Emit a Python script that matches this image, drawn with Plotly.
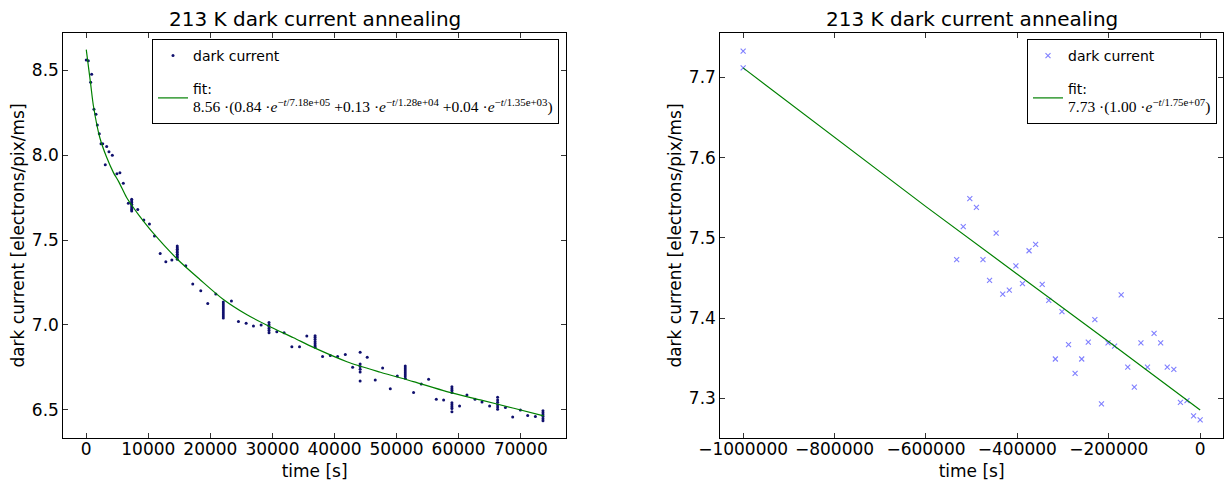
import plotly.graph_objects as go

# ---------------- left panel data ----------------
left_t = [0, 330, 710, 870, 1240, 1560, 1780, 2100, 2380, 2650, 3060, 3290, 3660, 4200, 4940, 5420, 5970, 6780,
          7320, 7320, 7320, 7320, 7320, 7320, 7320, 7320,
          8300, 9270, 10180, 10990, 11910, 12820, 13790,
          14660, 14660, 14660, 14660, 14660, 14660, 14660, 14660, 14660,
          16030, 17160, 18450, 19580, 20870,
          22080, 22080, 22080, 22080, 22080, 22080, 22080, 22080, 22080,
          23390, 24520, 25760, 26940, 28180,
          29450, 29450, 29450, 29450, 29450, 29450,
          30700, 31880, 33130, 34360, 35540,
          36870, 36870, 36870, 36870, 36870, 36870, 36870,
          38080, 39320, 40500, 41740, 42920,
          44130, 44130, 44130, 44130, 44130, 44130,
          45270, 46560, 47750, 48990, 50120,
          51400, 51400, 51400, 51400, 51400, 51400, 51400,
          52740, 53980, 55160, 56400, 57580,
          58920, 58920, 58920, 58920, 58920, 58920, 58920, 58920, 58920,
          60150, 61340, 62640, 63770, 64990,
          66280, 66280, 66280, 66280, 66280, 66280,
          67540, 68710, 69950, 71130, 72370,
          73590, 73590, 73590, 73590, 73590, 73590]
left_v = [8.559, 8.555, 8.428, 8.475, 8.27, 8.24, 8.176, 8.125, 8.066, 8.066, 7.943, 8.05, 8.02, 7.998, 7.89, 7.896, 7.834, 7.716,
          7.74, 7.73, 7.72, 7.71, 7.70, 7.69, 7.68, 7.67,
          7.68, 7.618, 7.594, 7.524, 7.42, 7.372, 7.382,
          7.465, 7.455, 7.446, 7.436, 7.426, 7.416, 7.406, 7.397, 7.387,
          7.349, 7.241, 7.202, 7.127, 7.182,
          7.135, 7.123, 7.112, 7.10, 7.088, 7.076, 7.065, 7.053, 7.041,
          7.141, 7.02, 7.01, 6.994, 7.0,
          7.014, 7.002, 6.991, 6.979, 6.967, 6.955,
          6.96, 6.955, 6.872, 6.872, 6.935,
          6.937, 6.926, 6.914, 6.902, 6.89, 6.878, 6.869,
          6.814, 6.82, 6.814, 6.827, 6.751,
          6.839, 6.771, 6.755, 6.739, 6.724, 6.671,
          6.81, 6.676, 6.747, 6.625, 6.70,
          6.759, 6.747, 6.735, 6.724, 6.712, 6.70, 6.686,
          6.603, 6.653, 6.68, 6.563, 6.559,
          6.637, 6.625, 6.614, 6.602, 6.543, 6.531, 6.519, 6.508, 6.49,
          6.524, 6.588, 6.563, 6.547, 6.524,
          6.575, 6.559, 6.545, 6.531, 6.518, 6.504,
          6.514, 6.459, 6.50, 6.467, 6.461,
          6.496, 6.484, 6.472, 6.461, 6.449, 6.437]

left_fit_t = [0, 700, 1150, 2200, 3300, 4400, 5200, 6500, 7300, 8500, 10800, 14600, 18300, 22100,
              25900, 29600, 33400, 36600, 42000, 47400, 52700, 58100, 63500, 68900, 73700]
left_fit_v = [8.62, 8.42, 8.29, 8.10, 7.985, 7.895, 7.845, 7.75, 7.706, 7.645, 7.54, 7.39, 7.268, 7.15,
              7.06, 6.99, 6.925, 6.868, 6.784, 6.722, 6.667, 6.608, 6.559, 6.51, 6.465]

left_fit_label = ("fit:<br><span style='font-family:Liberation Serif;font-size:15.5px'>8.56 ·(0.84 ·<i>e</i>"
                  "<sup>−<i>t</i>/7.18e+05</sup> +0.13 ·<i>e</i><sup>−<i>t</i>/1.28e+04</sup>"
                  " +0.04 ·<i>e</i><sup>−<i>t</i>/1.35e+03</sup>)</span>")

# ---------------- right panel data ----------------
right_t = [-1000000, -1000000, -532800, -518400, -504000, -489600, -475200, -460800, -446400, -432000,
           -417600, -403200, -388800, -374400, -360000, -345600, -331200, -316800, -302400, -288000,
           -273600, -259200, -244800, -230400, -216000, -201600, -187200, -172800, -158400, -144000,
           -129600, -115200, -100800, -86400, -72000, -57600, -43200, -28800, -14400, 0]
right_v = [7.733, 7.712, 7.473, 7.514, 7.549, 7.538, 7.473, 7.447, 7.506, 7.430,
           7.435, 7.465, 7.443, 7.484, 7.492, 7.442, 7.422, 7.349, 7.408, 7.367,
           7.331, 7.349, 7.370, 7.398, 7.293, 7.369, 7.365, 7.429, 7.339, 7.314,
           7.369, 7.339, 7.381, 7.369, 7.339, 7.336, 7.295, 7.297, 7.278, 7.273]

right_fit_t = [-1000000, -600000, -200000, 0]
right_fit_v = [7.712, 7.539, 7.3705, 7.2854]

right_fit_label = ("fit:<br><span style='font-family:Liberation Serif;font-size:15.5px'>7.73 ·(1.00 ·<i>e</i>"
                   "<sup>−<i>t</i>/1.75e+07</sup>)</span>")

title_text = "213 K dark current annealing"
x_title = "time [s]"
y_title = "dark current [electrons/pix/ms]"

FONT = "DejaVu Sans"
W, H = 1226, 486
T, B = 33, 48
PH = H - T - B

fig = go.Figure()

fig.add_trace(go.Scatter(x=left_t, y=left_v, mode="markers", name="dark current",
                         marker=dict(color="#10106e", size=3.0, symbol="circle"),
                         xaxis="x", yaxis="y", legend="legend", legendgroup="a"))
fig.add_trace(go.Scatter(x=left_fit_t, y=left_fit_v, mode="lines", name=left_fit_label,
                         line=dict(color="#008000", width=1.2, shape="spline", smoothing=0.8),
                         xaxis="x", yaxis="y", legend="legend", legendgroup="b"))

fig.add_trace(go.Scatter(x=right_t, y=right_v, mode="markers", name="dark current",
                         marker=dict(color="rgba(0,0,255,0.5)", size=5, symbol="x-thin-open",
                                     line=dict(color="rgba(0,0,255,0.55)", width=1.1)),
                         xaxis="x2", yaxis="y2", legend="legend2", legendgroup="c"))
fig.add_trace(go.Scatter(x=right_fit_t, y=right_fit_v, mode="lines", name=right_fit_label,
                         line=dict(color="#008000", width=1.2),
                         xaxis="x2", yaxis="y2", legend="legend2", legendgroup="d"))

axis_common = dict(showgrid=False, zeroline=False, showline=True, linecolor="black", linewidth=1,
                   mirror="allticks", ticks="inside", ticklen=5, tickwidth=1, tickcolor="#333",
                   automargin=False,
                   tickfont=dict(family=FONT, size=17, color="black"),
                   title_font=dict(family=FONT, size=17, color="black"))

fig.update_layout(
    width=W, height=H,
    margin=dict(l=0, r=0, t=T, b=B, pad=0),
    paper_bgcolor="white", plot_bgcolor="white",
    font=dict(family=FONT, size=14, color="black"),
    xaxis=dict(domain=[63.3 / W, 566 / W], range=[-3700, 77300], tick0=0, dtick=10000,
               tickformat="d", ticklabelstandoff=-4,
               title=dict(text=x_title, standoff=6), anchor="y", **axis_common),
    yaxis=dict(domain=[0, 1], range=[6.335, 8.718], tick0=6.5, dtick=0.5, tickformat=".1f",
               title=dict(text=y_title, standoff=2), anchor="x", **axis_common),
    xaxis2=dict(domain=[720.3 / W, 1223 / W], range=[-1050000, 50000], tick0=0, dtick=200000,
                tickformat="d", ticklabelstandoff=-4,
                title=dict(text=x_title, standoff=6), anchor="y2", **axis_common),
    yaxis2=dict(domain=[0, 1], range=[7.2505, 7.7555], tick0=7.3, dtick=0.1, tickformat=".1f",
                title=dict(text=y_title, standoff=2), anchor="x2", **axis_common),
    legend=dict(x=559 / W, y=(438 - 39) / PH, xanchor="right", yanchor="top",
                bgcolor="white", bordercolor="black", borderwidth=1,
                font=dict(family=FONT, size=14, color="black"), tracegroupgap=12),
    legend2=dict(x=1217 / W, y=(438 - 39) / PH, xanchor="right", yanchor="top",
                 bgcolor="white", bordercolor="black", borderwidth=1,
                 font=dict(family=FONT, size=14, color="black"), tracegroupgap=12),
    annotations=[
        dict(text=title_text, xref="x domain", yref="paper", x=0.5, y=(438 - 19) / PH,
             xanchor="center", yanchor="middle", showarrow=False,
             font=dict(family=FONT, size=20, color="black")),
        dict(text=title_text, xref="x2 domain", yref="paper", x=0.5, y=(438 - 19) / PH,
             xanchor="center", yanchor="middle", showarrow=False,
             font=dict(family=FONT, size=20, color="black")),
    ],
)

fig.write_html("out.html", config={"displayModeBar": False},
               post_script="document.body.style.margin='0px';document.body.style.overflow='hidden';")
